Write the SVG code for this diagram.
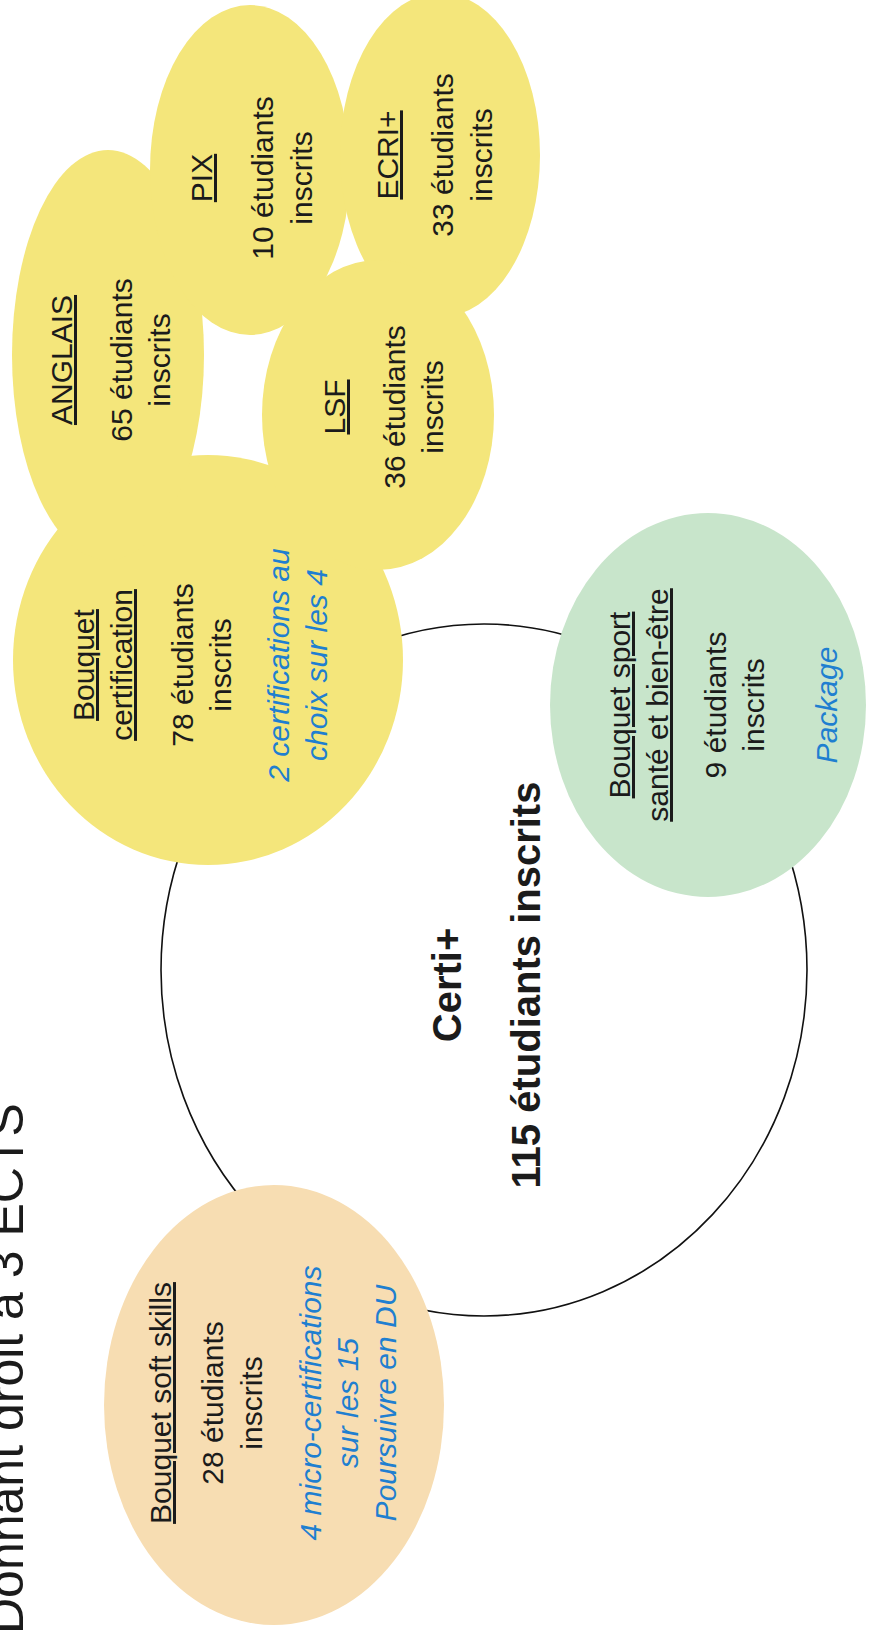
<svg xmlns="http://www.w3.org/2000/svg" width="876" height="1630" viewBox="0 0 876 1630">
<style>
text { font-family: "Liberation Sans", Arial, sans-serif; fill: #1b1b1b; text-anchor: middle; font-size: 30px; }
.u { text-decoration: underline; }
.bl { fill: #1f7fd0; font-style: italic; }
.big { font-size: 40px; font-weight: bold; }
.title { font-size: 50px; text-anchor: start; }
.yel { fill: #F4E67B; }
.org { fill: #F7DDB2; }
.grn { fill: #C8E5CB; }
.ring { fill: none; stroke: #111; stroke-width: 1.6; }
</style>
<rect width="876" height="1630" fill="#ffffff"/>
<text class="title" transform="translate(23,1634) rotate(-90)">Donnant droit à 3 ECTS</text>

<g id="certi-plus">
<ellipse class="ring" cx="484" cy="970" rx="323" ry="346"/>
<g transform="translate(0,985) rotate(-90)">
<text class="big" x="0" y="461">Certi+</text>
<text class="big" x="0" y="540">115 étudiants inscrits</text>
</g>
</g>

<g id="bouquet-certification">
<ellipse class="yel" cx="208" cy="660" rx="195" ry="205"/>
<g transform="translate(0,665) rotate(-90)">
<text class="u" x="0" y="94">Bouquet</text>
<text class="u" x="0" y="132">certification</text>
<text x="0" y="193">78 étudiants</text>
<text x="0" y="231">inscrits</text>
<text class="bl" x="0" y="289">2 certifications au</text>
<text class="bl" x="0" y="327">choix sur les 4</text>
</g>
</g>

<g id="anglais">
<ellipse class="yel" cx="108" cy="355" rx="96" ry="205"/>
<g transform="translate(0,360) rotate(-90)">
<text class="u" x="0" y="72">ANGLAIS</text>
<text x="0" y="132">65 étudiants</text>
<text x="0" y="170">inscrits</text>
</g>
</g>

<g id="pix">
<ellipse class="yel" cx="250" cy="170" rx="100" ry="165"/>
<g transform="translate(0,178) rotate(-90)">
<text class="u" x="0" y="212">PIX</text>
<text x="0" y="273">10 étudiants</text>
<text x="0" y="312">inscrits</text>
</g>
</g>

<g id="ecri">
<ellipse class="yel" cx="440" cy="155" rx="100" ry="162"/>
<g transform="translate(0,155) rotate(-90)">
<text class="u" x="0" y="398">ECRI+</text>
<text x="0" y="453">33 étudiants</text>
<text x="0" y="492">inscrits</text>
</g>
</g>

<g id="lsf">
<ellipse class="yel" cx="378" cy="415" rx="116" ry="155"/>
<g transform="translate(0,407) rotate(-90)">
<text class="u" x="0" y="345">LSF</text>
<text x="0" y="405">36 étudiants</text>
<text x="0" y="443">inscrits</text>
</g>
</g>

<g id="bouquet-sport">
<ellipse class="grn" cx="708" cy="705" rx="158" ry="192"/>
<g transform="translate(0,705) rotate(-90)">
<text class="u" x="0" y="630">Bouquet sport</text>
<text class="u" x="0" y="668">santé et bien-être</text>
<text x="0" y="726">9 étudiants</text>
<text x="0" y="764">inscrits</text>
<text class="bl" x="0" y="837">Package</text>
</g>
</g>

<g id="bouquet-soft-skills">
<ellipse class="org" cx="274" cy="1405" rx="170" ry="220"/>
<g transform="translate(0,1403) rotate(-90)">
<text class="u" x="0" y="171">Bouquet soft skills</text>
<text x="0" y="223">28 étudiants</text>
<text x="0" y="262">inscrits</text>
<text class="bl" x="0" y="321">4 micro-certifications</text>
<text class="bl" x="0" y="358">sur les 15</text>
<text class="bl" x="0" y="396">Poursuivre en DU</text>
</g>
</g>
</svg>
